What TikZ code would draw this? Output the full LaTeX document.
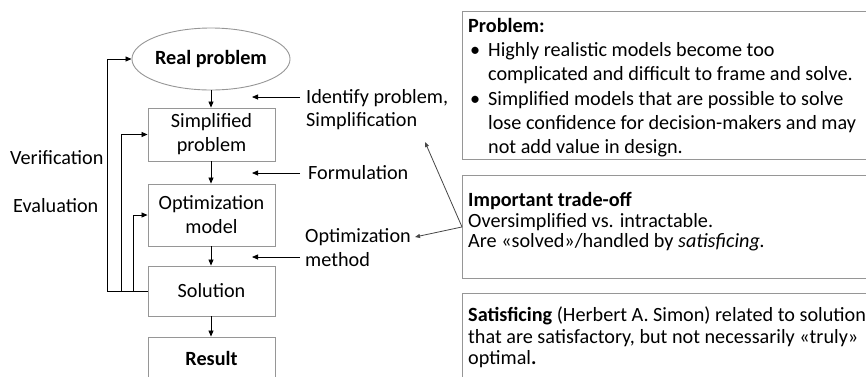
\documentclass[tikz,border=0pt]{standalone}
\usepackage{fontspec}
\setmainfont{Carlito}
\usetikzlibrary{arrows.meta,shapes.geometric}
\definecolor{boxgray}{RGB}{150,150,150}
\definecolor{linegray}{RGB}{70,70,70}
\newcommand{\lblfont}{\fontsize{20.2}{24}\selectfont}

\begin{document}
\begin{tikzpicture}[x=1pt,y=-1pt,
  flowbox/.style={draw=boxgray, line width=0.9pt, minimum width=127pt,
    inner sep=0pt, align=center, font=\lblfont},
  flowarrow/.style={-{Triangle[length=6pt,width=5pt]}, line width=0.8pt},
  callout/.style={-{Triangle[length=5pt,width=4pt]}, draw=linegray, line width=0.8pt},
  panel/.style={draw=boxgray, line width=0.9pt, minimum width=430pt,
    inner sep=0pt, anchor=north west},
  lbl/.style={font=\lblfont, inner sep=0pt, anchor=base west},
  paneltext/.style={inner sep=0pt, anchor=base west},
]
\clip (0,0) rectangle (866,376);
\useasboundingbox (0,0) rectangle (866,376);

% --- main flow ---
\node[ellipse, draw=boxgray, line width=0.9pt, minimum width=156pt,
  minimum height=62pt, inner sep=0pt, font=\lblfont\bfseries] (real) at (211,59) {Real problem};
\node[flowbox, minimum height=53pt] (simp) at (211.5,134.5) {Simplified\\problem};
\node[flowbox, minimum height=62pt] (opt) at (211.5,215) {Optimization\\model};
\node[flowbox, minimum height=50pt] (sol) at (211.5,291) {Solution};
\node[flowbox, minimum height=42pt, font=\lblfont\bfseries] (res) at (211.5,358) {Result};

\draw[flowarrow] (real.south) -- (real.south |- simp.north);
\draw[flowarrow] (real.south |- simp.south) -- (real.south |- opt.north);
\draw[flowarrow] (real.south |- opt.south) -- (real.south |- sol.north);
\draw[flowarrow] (real.south |- sol.south) -- (real.south |- res.north);

% --- feedback loops ---
\draw[flowarrow] (sol.west) -- ++(-40,0) |- (real.west);
\draw[flowarrow] (sol.west) -- ++(-26,0) |- (simp.west);
\draw[flowarrow] (sol.west) -- ++(-14,0) |- (opt.west);

\node[lbl] (ver) at (10,164.5) {Verification};
\node[lbl] (eva) at (13,212.5) {Evaluation};

% --- step labels ---
\node[lbl] (ident) at (306,103.5) {Identify problem,};
\node[lbl] (simpl) at (306,126.5) {Simplification};
\node[lbl] (form) at (308,179.5) {Formulation};
\node[lbl] (optm) at (305,242.5) {Optimization};
\node[lbl] (meth) at (305,266.5) {method};

\coordinate (identtail) at (300,97);
\coordinate (identhead) at (252,97);
\coordinate (formtail) at (300,173);
\coordinate (formhead) at (252,173);
\coordinate (methtail) at (300,257);
\coordinate (methhead) at (252,257);
\draw[flowarrow] (identtail) -- (identhead);
\draw[flowarrow] (formtail) -- (formhead);
\draw[flowarrow] (methtail) -- (methhead);

% --- panels ---
\node[panel, minimum height=148pt] (prob) at (462,11) {};
\node[panel, minimum height=103pt] (trade) at (462,175) {};
\node[panel, minimum height=100pt] (sat) at (462,293) {};

\node[paneltext] (probtext) at (468,32.5) {\parbox[t]{440pt}{\fontsize{20.2}{24.2}\selectfont\raggedright
  \textbf{Problem:}\\
  \makebox[20pt][l]{\hspace{2pt}\textbullet}Highly realistic models become too\\
  \hspace*{20pt}complicated and difficult to frame and solve.\\
  \makebox[20pt][l]{\hspace{2pt}\textbullet}Simplified models that are possible to solve\\
  \hspace*{20pt}lose confidence for decision-makers and may\\
  \hspace*{20pt}not add value in design.}};

\node[paneltext] (tradetext) at (468,206.5) {\parbox[t]{440pt}{\fontsize{20.2}{20.5}\selectfont\raggedright
  \textbf{Important trade-off}\\
  Oversimplified vs. intractable.\\
  Are «solved»/handled by \textit{satisficing.}}};

\node[paneltext] (sattext) at (468,321.5) {\parbox[t]{440pt}{\fontsize{20.2}{21.5}\selectfont\raggedright
  \textbf{Satisficing} (Herbert A. Simon) related to solutions\\
  that are satisfactory, but not necessarily «truly»\\
  optimal\textbf{.}}};

% --- callouts from the trade-off panel ---
\coordinate (simplpoint) at (425,142);
\coordinate (optmpoint) at (415,237);
\draw[callout] (trade.west) -- (simplpoint);
\draw[callout] (trade.west) -- (optmpoint);
\end{tikzpicture}
\end{document}
